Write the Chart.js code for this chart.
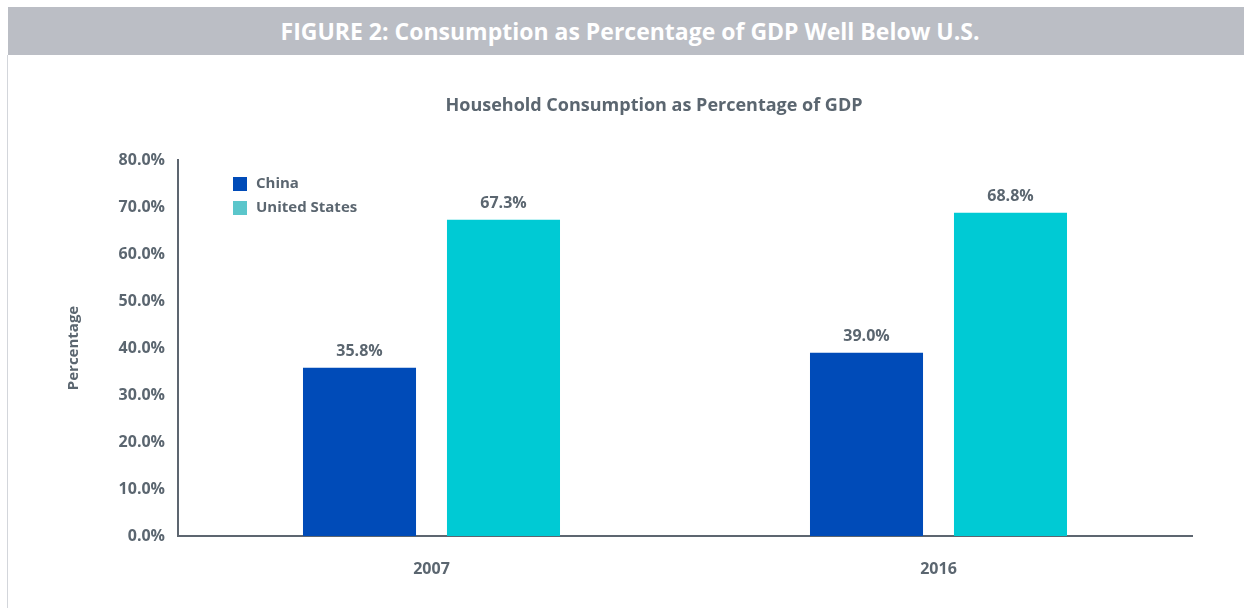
<!DOCTYPE html>
<html><head><meta charset="utf-8">
<script src="https://cdn.jsdelivr.net/npm/chart.js@4/dist/chart.umd.min.js"></script>
<style>
html,body{margin:0;padding:0;background:#fff;}
#wrap{position:relative;width:1244px;height:608px;overflow:hidden;}
#hdr{position:absolute;left:8px;top:7px;width:1236px;height:48px;background:#BBBEC5;color:#fff;font:bold 23px "Open Sans",sans-serif;text-align:center;line-height:48px;box-sizing:border-box;padding-left:8px;}
#lb{position:absolute;left:7px;top:55px;width:1px;height:553px;background:#D3D6DB;}
canvas{position:absolute;left:0;top:0;}
</style></head>
<body><div id="wrap"><canvas id="c" width="1244" height="608"></canvas><div id="hdr">FIGURE 2: Consumption as Percentage of GDP Well Below U.S.</div><div id="lb"></div></div>
<script>
const categories = ['2007', '2016'];
const seriesNames = ['China', 'United States'];
const chinaValues = [35.8, 39.0];
const usValues = [67.3, 68.8];
const yTicks = [0, 10, 20, 30, 40, 50, 60, 70, 80];
const chartTitle = 'Household Consumption as Percentage of GDP';
const yTitle = 'Percentage';

const TXT = '#5B6670';
const FONT = '"Open Sans", sans-serif';
const barColors = ['#004BB8', '#00CAD4'];
const legendColors = ['#004BB8', '#5BC6CB'];

const overlay = {
  id: 'overlay',
  afterDatasetsDraw(chart) {
    const ctx = chart.ctx;
    ctx.save();
    ctx.fillStyle = TXT;
    ctx.font = 'bold 18px ' + FONT;
    ctx.textAlign = 'center';
    ctx.textBaseline = 'middle';
    ctx.fillText(chartTitle, 654, 106);
    // data labels
    ctx.font = 'bold 16px ' + FONT;
    ctx.textBaseline = 'alphabetic';
    chart.data.datasets.forEach((ds, i) => {
      chart.getDatasetMeta(i).data.forEach((bar, j) => {
        ctx.fillText(ds.data[j].toFixed(1) + '%', bar.x, bar.y - 12);
      });
    });
    // legend
    ctx.textAlign = 'left';
    ctx.textBaseline = 'middle';
    ctx.font = 'bold 15px ' + FONT;
    chart.data.datasets.forEach((ds, i) => {
      const y = 184 + i * 24;
      ctx.fillStyle = legendColors[i];
      ctx.fillRect(233, y - 7, 14, 14);
      ctx.fillStyle = TXT;
      ctx.fillText(ds.label, 256, y);
    });
    ctx.restore();
  }
};

new Chart(document.getElementById('c'), {
  type: 'bar',
  data: {
    labels: categories,
    datasets: [
      { label: seriesNames[0], data: chinaValues, backgroundColor: barColors[0] },
      { label: seriesNames[1], data: usValues, backgroundColor: barColors[1] }
    ]
  },
  options: {
    responsive: false,
    animation: false,
    devicePixelRatio: 1,
    layout: { padding: { top: 160, right: 52, bottom: 0, left: 0 } },
    plugins: { legend: { display: false }, title: { display: false }, tooltip: { enabled: false } },
    datasets: { bar: { categoryPercentage: 0.568, barPercentage: 0.785 } },
    scales: {
      x: {
        grid: { display: false, drawTicks: false },
        border: { color: '#5D6670', width: 2 },
        ticks: { color: TXT, font: { family: FONT, weight: 'bold', size: 16 }, padding: 24 },
        afterFit(s) { s.height = 72; }
      },
      y: {
        min: 0, max: 80,
        afterBuildTicks(s) { s.ticks = yTicks.map(v => ({ value: v })); },
        grid: { display: false, drawTicks: false },
        border: { color: '#5D6670', width: 2 },
        ticks: { color: TXT, font: { family: FONT, weight: 'bold', size: 16 }, padding: 13,
          callback: v => v.toFixed(1) + '%' },
        title: { display: true, text: yTitle, color: TXT, font: { family: FONT, weight: 'bold', size: 15 }, padding: { top: 65, bottom: 0 } },
        afterFit(s) { s.width = 178; }
      }
    }
  },
  plugins: [overlay]
});
</script></body></html>
